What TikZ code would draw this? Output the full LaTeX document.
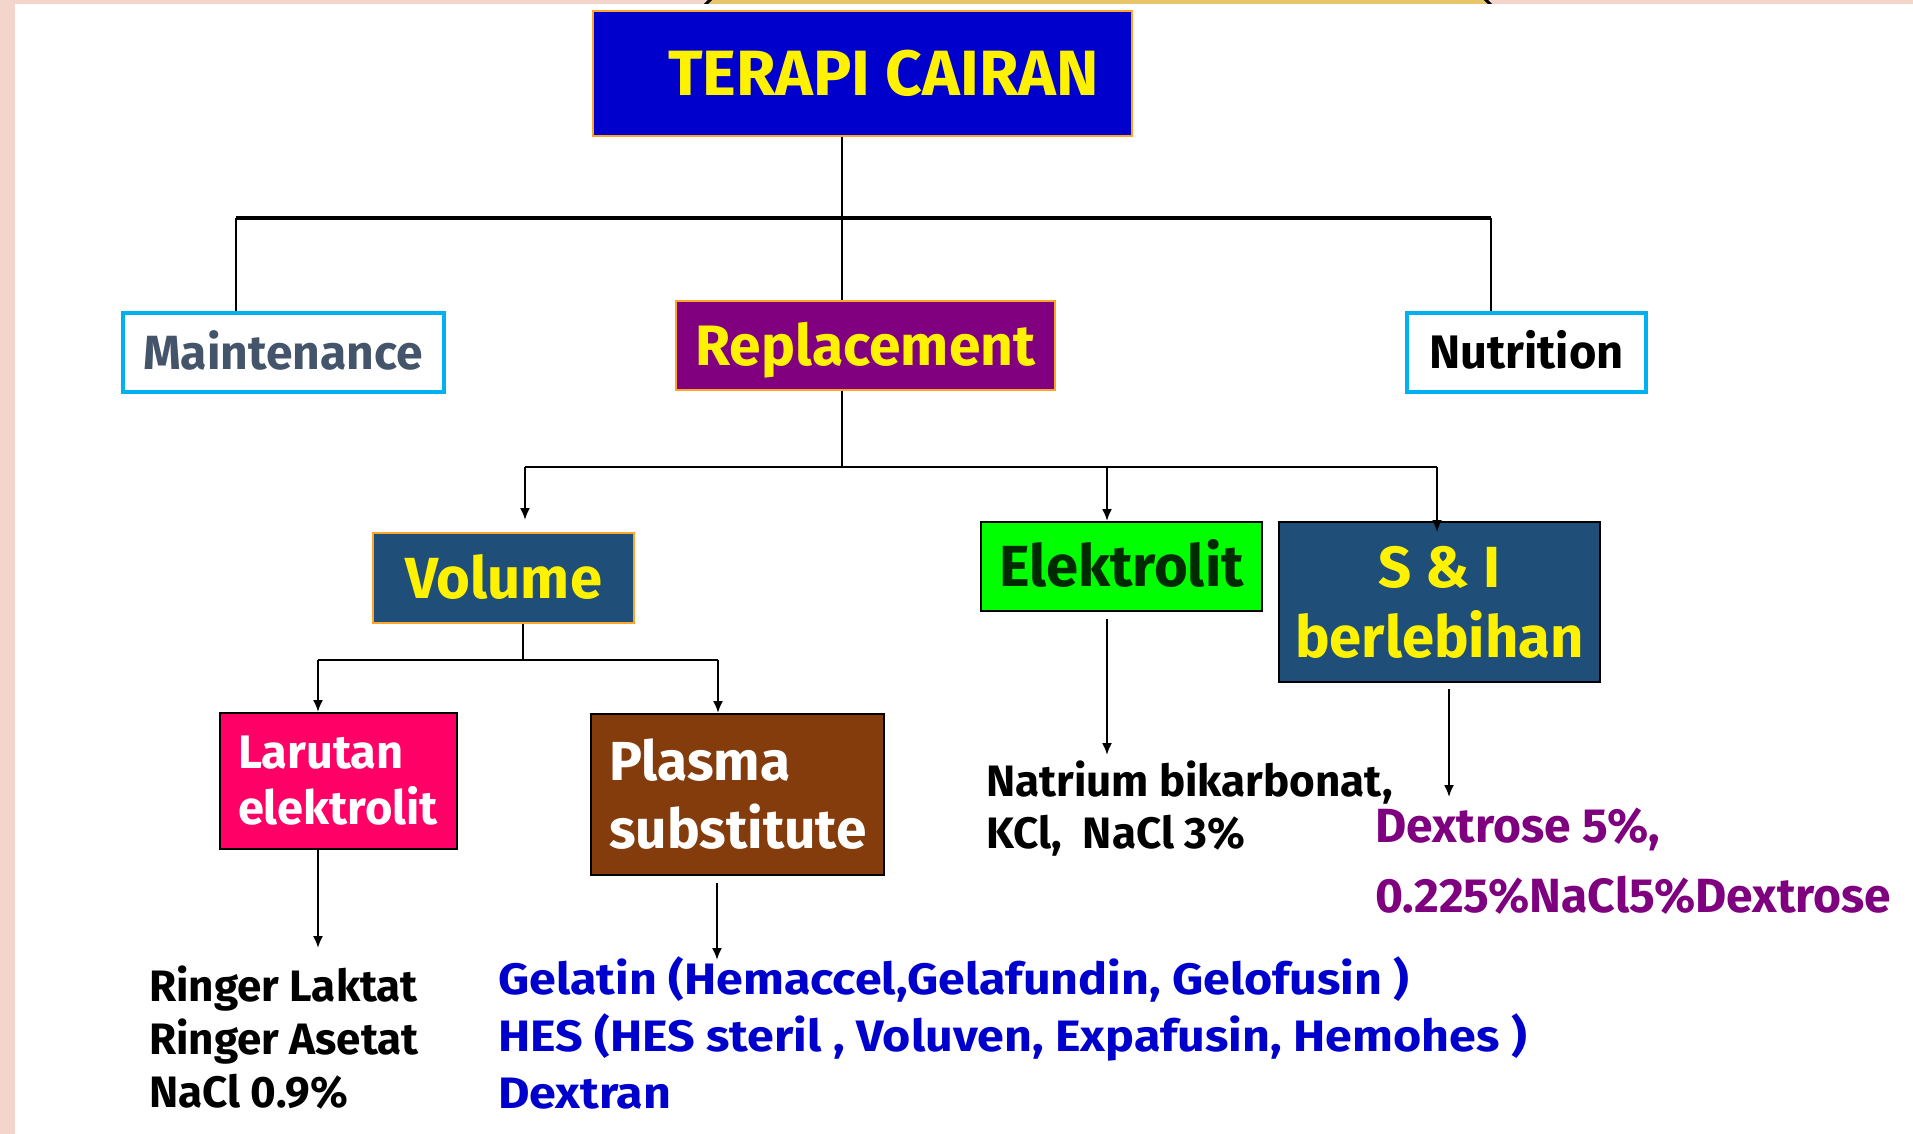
\documentclass[tikz,border=0pt]{standalone}
\usepackage{fontspec}
\setmainfont{Fira Sans}
\newfontfamily\widesans{Fira Sans}[FakeStretch=1.1]
\usetikzlibrary{arrows.meta}
\definecolor{framepink}{HTML}{F3D5CC}
\definecolor{stripgold}{HTML}{E8C46A}
\definecolor{titleblue}{HTML}{0000CC}
\definecolor{rimorange}{HTML}{FFA52A}
\definecolor{replpurple}{HTML}{800080}
\definecolor{rimcyan}{HTML}{00B0F0}
\definecolor{slategrey}{HTML}{44546A}
\definecolor{deepnavy}{HTML}{1F4E79}
\definecolor{brightlime}{HTML}{00FF00}
\definecolor{darkleaf}{HTML}{002A00}
\definecolor{hotpink}{HTML}{FF0066}
\definecolor{rustbrown}{HTML}{843C0C}
\definecolor{listblue}{HTML}{0000CC}
\definecolor{listpurple}{HTML}{7F007F}
\tikzset{
  fsize/.style 2 args={font=\bfseries\fontsize{#1}{#2}\selectfont},
  box/.style={draw, line width=2pt, inner sep=0pt},
  headbox/.style={box, draw=rimorange},
  catbox/.style={box, draw=rimcyan, line width=4pt, fill=white},
  subbox/.style={box, draw=black},
  link/.style={line width=2.5pt},
  bus/.style={line width=4pt},
  arr/.style={line width=2pt, -{Latex[length=12pt,width=10pt]}},
  listtext/.style={align=left, inner sep=0pt, anchor=north west},
}
\begin{document}
\begin{tikzpicture}[x=1pt,y=-1pt]
\useasboundingbox (0,0) rectangle (1913,1134);
% frame and page
\fill[framepink] (0,0) rectangle (1913,1134);
\filldraw[fill=stripgold, line width=3pt] (712,-2) -- (1484,-2) -- (1494,8) -- (702,8) -- cycle;
\fill[white] (15,4) rectangle (1913,1134);

% boxes
\node[headbox, fill=titleblue, text=yellow, fsize={64}{64}, text height=44pt, text depth=0pt,
  minimum width=539pt, minimum height=125pt] (terapi) at (862.5,73.5) {\hspace*{42pt}TERAPI CAIRAN};
\node[catbox, text=slategrey, fsize={48}{48}, text height=33pt, text depth=0pt,
  minimum width=321pt, minimum height=79pt] (maint) at (283,352.5) {Maintenance};
\node[headbox, fill=replpurple, text=yellow, fsize={57}{57}, text height=40pt, text depth=0pt,
  minimum width=379pt, minimum height=89pt] (repl) at (865.5,345.5) {Replacement};
\node[catbox, text=black, fsize={47}{47}, text height=32pt, text depth=0pt,
  minimum width=239pt, minimum height=79pt] (nutri) at (1526.5,352.5) {Nutrition};
\node[headbox, fill=deepnavy, text=yellow, fsize={58}{58}, text height=41pt, text depth=0pt,
  minimum width=261pt, minimum height=90pt] (volume) at (503.5,578) {Volume};
\node[subbox, fill=brightlime, text=darkleaf, fsize={58}{58}, text height=40pt, text depth=0pt,
  minimum width=281pt, minimum height=89pt] (elek) at (1121.5,566.5) {Elektrolit};
\node[subbox, fill=deepnavy, text=yellow, fsize={58}{70}, align=center,
  minimum width=321pt, minimum height=160pt] (si) at (1439.5,602) {S \& I\\berlebihan};
\node[subbox, fill=hotpink, text=white, fsize={47}{56}, align=left, text width=201pt, inner xsep=18pt,
  minimum width=237pt, minimum height=136pt] (larutan) at (338.5,781) {Larutan\\elektrolit};
\node[subbox, fill=rustbrown, text=white, fsize={55}{68}, align=left, text width=257pt, inner xsep=18pt,
  minimum width=293pt, minimum height=161pt] (plasma) at (737.5,794.5) {Plasma\\substitute};

% lists
\node[listtext, fsize={44}{53}] (ringer) at (149,966) {Ringer Laktat\\Ringer Asetat\\NaCl 0.9\%};
\node[listtext, font=\widesans\bfseries\fontsize{44}{57}\selectfont, text=listblue] (koloid) at (498,956)
  {Gelatin (Hemaccel,Gelafundin, Gelofusin )\\HES (HES steril , Voluven, Expafusin, Hemohes )\\Dextran};
\node[listtext, fsize={44}{52}] (natrium) at (986,761) {Natrium bikarbonat,\\KCl,\ \ NaCl 3\%};
\node[listtext, fsize={48}{70}, text=listpurple] (dextrose) at (1375,808) {Dextrose 5\%,\\0.225\%NaCl5\%Dextrose};

% first level
\coordinate (bus1) at (842,218);
\coordinate (mdrop) at (236,218);
\coordinate (ndrop) at (1491,218);
\draw[link] (bus1 |- terapi.south) -- (bus1 |- repl.north);
\draw[bus] (mdrop) -- (ndrop);
\draw[link] (mdrop) -- (mdrop |- maint.north);
\draw[link] (ndrop) -- (ndrop |- nutri.north);

% second level
\coordinate (bus2) at (842,467);
\coordinate (vdrop) at (525,467);
\coordinate (edrop) at (1107,467);
\coordinate (sdrop) at (1437,467);
\draw[link] (bus2 |- repl.south) -- (bus2);
\draw[link] (vdrop) -- (sdrop);
\draw[arr, shorten >=12pt] (vdrop) -- (vdrop |- volume.north);
\draw[arr] (edrop) -- (edrop |- elek.north);
\draw[arr, shorten >=-11pt] (sdrop) -- (sdrop |- si.north);

% third level
\coordinate (bus3) at (523,660);
\coordinate (ldrop) at (318,660);
\coordinate (pdrop) at (718,660);
\draw[arr, -] (bus3 |- volume.south) -- (bus3);
\draw[arr, -] (ldrop) -- (pdrop);
\draw[arr] (ldrop) -- (ldrop |- larutan.north);
\draw[arr] (pdrop) -- (pdrop |- plasma.north);

% down to the lists
\coordinate (lend) at (318,948);
\coordinate (pend) at (717,960);
\coordinate (eend) at (1107,755);
\coordinate (send) at (1449,797);
\draw[arr] (lend |- larutan.south) -- (lend);
\draw[arr, shorten <=7pt] (pend |- plasma.south) -- (pend);
\draw[arr, shorten <=7pt] (eend |- elek.south) -- (eend);
\draw[arr, shorten <=6pt] (send |- si.south) -- (send);
\end{tikzpicture}
\end{document}
